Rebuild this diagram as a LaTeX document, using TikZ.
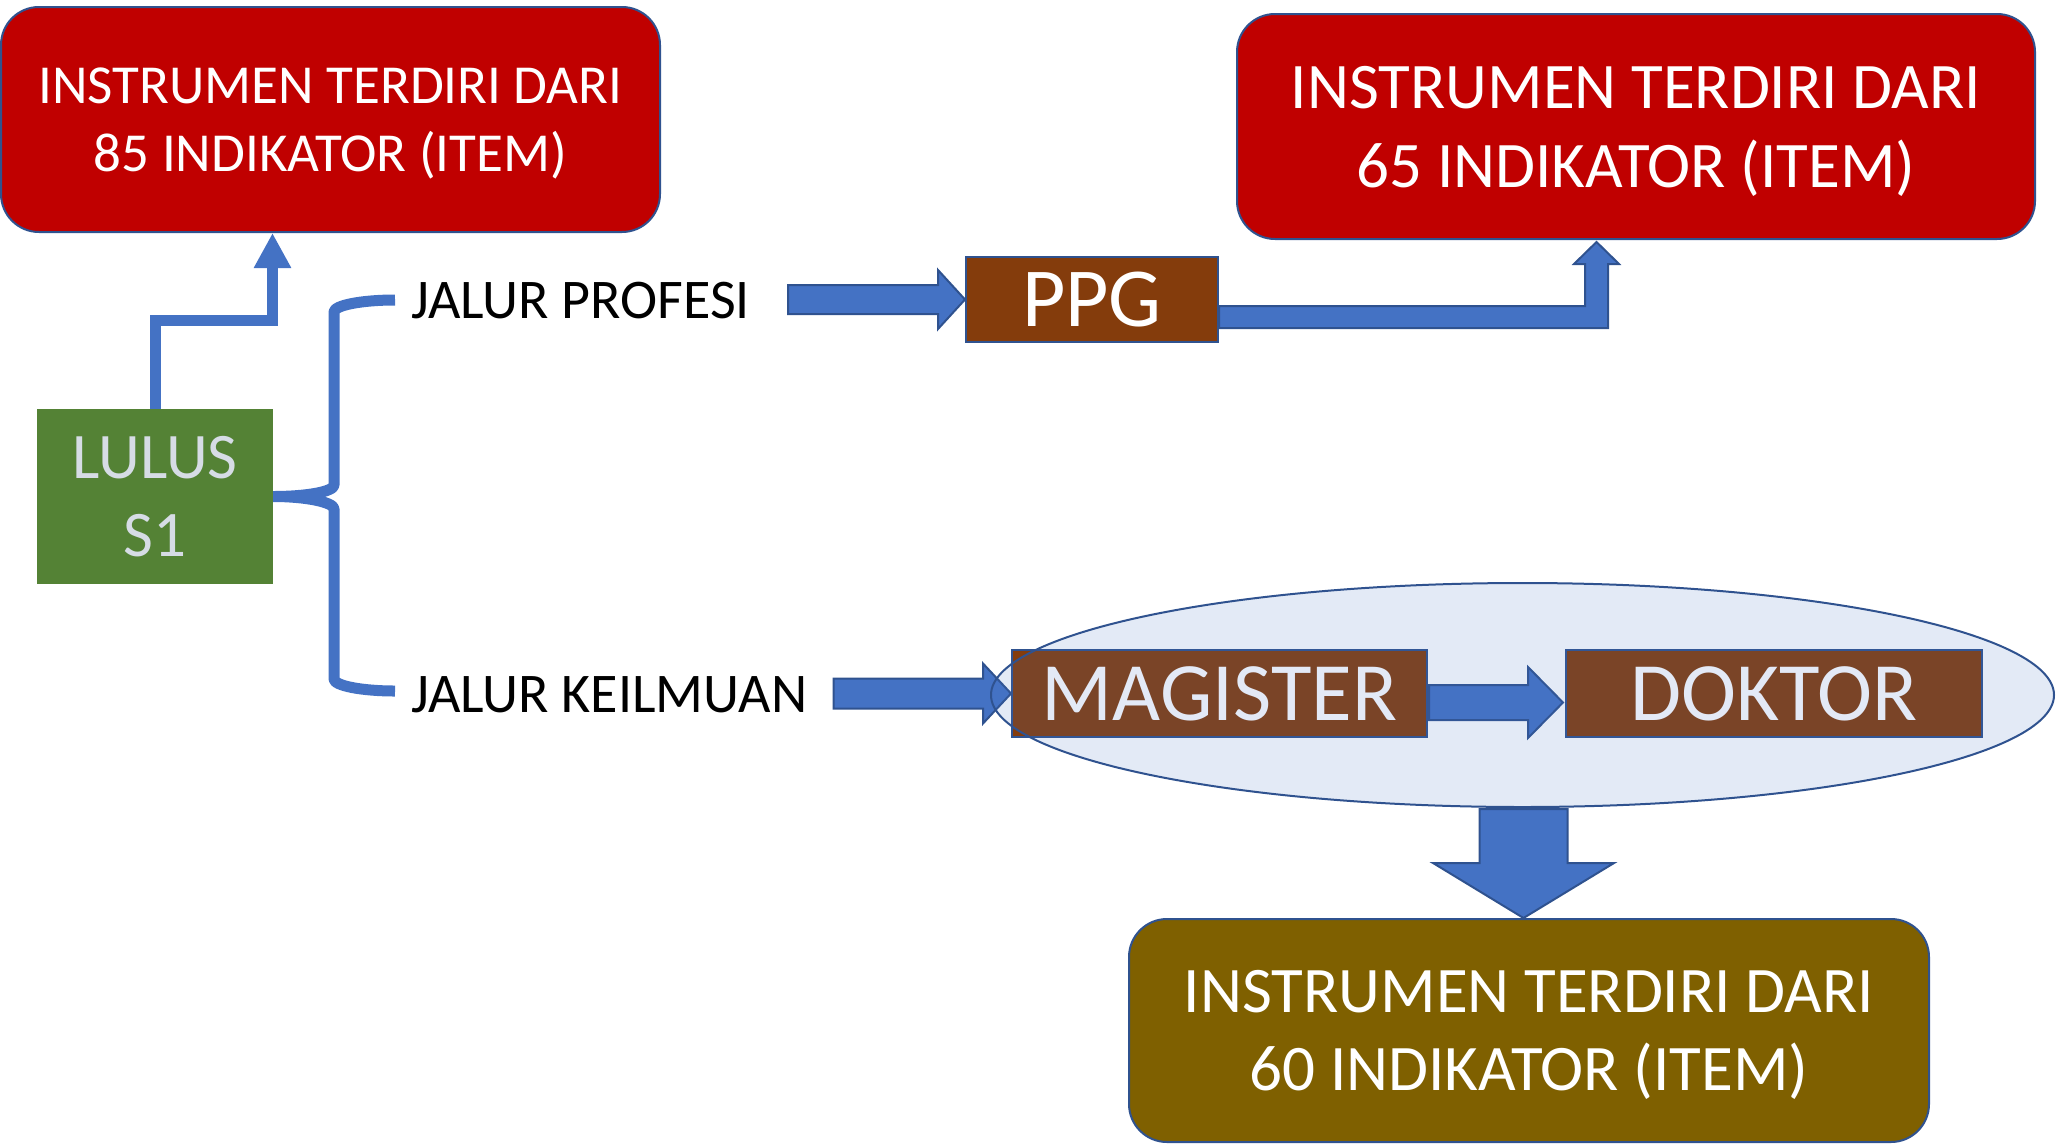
\documentclass[tikz,border=0pt]{standalone}
\usepackage{fontspec}
\setmainfont{Carlito}
\usetikzlibrary{shapes.geometric,arrows.meta,calc}
\definecolor{cred}{HTML}{C00000}
\definecolor{cgreen}{HTML}{548235}
\definecolor{cbrown}{HTML}{843C0C}
\definecolor{colive}{HTML}{7F6000}
\definecolor{cblue}{HTML}{4472C4}
\definecolor{cborder}{HTML}{2F528F}
\definecolor{clight}{HTML}{D6DCE5}
\newcommand{\blockR}[5]{%
  \path[blockarrow] (#1) -- ++({-#3},{-#5}) -- ++(0,{#5-#4}) -- ++({-(#2-#3)},0)
    -- ++(0,{2*#4}) -- ++({#2-#3},0) -- ++(0,{#5-#4}) -- cycle;}
\begin{document}
\begin{tikzpicture}[x=1pt,y=-1pt,
  box/.style={rectangle, inner sep=0pt, align=center, text depth=0pt, line width=2pt, draw=cborder},
  redbox/.style={box, fill=cred, text=white, rounded corners=38pt},
  brownbox/.style={box, fill=cbrown, text=white, minimum height=87pt},
  blockarrow/.style={fill=cblue, draw=cborder, line width=2pt, line join=miter},
  thinline/.style={draw=cblue, line width=11pt, line join=miter},
  jalur/.style={font=\fontsize{56}{67}\selectfont, text=black, inner sep=0pt, anchor=base west}
]
\useasboundingbox (0,0) rectangle (2056,1144);

% boxes
\node[redbox, text depth=-6pt, minimum width=659pt, minimum height=225pt, font=\fontsize{55}{67.5}\selectfont] (box85) at (330.5,119.5) {INSTRUMEN TERDIRI DARI\\85 INDIKATOR (ITEM)};
\node[redbox, text depth=-3pt, minimum width=798pt, minimum height=225pt, font=\fontsize{65}{79}\selectfont] (box65) at (1636,126.5) {INSTRUMEN TERDIRI DARI\\65 INDIKATOR (ITEM)};
\node[box, text depth=-6pt, fill=colive, text=white, rounded corners=38pt, minimum width=800pt, minimum height=223pt, font=\fontsize{65}{78}\selectfont] (box60) at (1529,1030.5) {INSTRUMEN TERDIRI DARI\\60 INDIKATOR (ITEM)};
\node[rectangle, fill=cgreen, text=clight, inner sep=0pt, align=center, text depth=0pt, minimum width=236pt, minimum height=175pt, font=\fontsize{65}{78}\selectfont] (lulus) at (155,496.5) {LULUS\\S1};
\node[brownbox, minimum width=252pt, minimum height=85pt, font=\fontsize{84}{100}\selectfont] (ppg) at (1092,299.5) {PPG};
\node[brownbox, minimum width=415pt, font=\fontsize{83}{100}\selectfont] (mag) at (1219.5,693.5) {MAGISTER};
\node[brownbox, minimum width=416pt, font=\fontsize{83}{100}\selectfont] (dok) at (1774,693.5) {DOKTOR};

% labels
\node[jalur] (jp) at (411,318) {JALUR PROFESI};
\node[jalur] (jk) at (411,712) {JALUR KEILMUAN};

% block arrows
\blockR{ppg.west}{177}{27}{14.5}{29.5}
\blockR{mag.west}{177.5}{28}{15}{30}
\blockR{$(dok.west)+(-2,9)$}{134}{35}{17.5}{35.5}
\path[blockarrow] ($(ppg.east)+(0,28.5)$) -- ++(389,0) -- ++(0,-64) -- ++(11,0)
  -- ++(-22.5,-22) -- ++(-22.5,22) -- ++(11,0) -- ++(0,42) -- ++(-366,0) -- cycle;

% LULUS -> 85 box
\coordinate (c1) at (272.5,320);
\draw[thinline, -{Triangle[width=35pt,length=35pt]}] (lulus.north) |- (c1) -- (c1 |- box85.south);

% brace
\coordinate (bt) at (395,300);
\coordinate (bb) at (395,691);
\draw[thinline, line join=bevel] (bt) .. controls (361.3,300) and (334,305.4) .. (334,312)
  -- (334,485) .. controls (334,491.6) and (306.7,496.5) .. (lulus.east)
  .. controls (306.7,496.5) and (334,502.4) .. (334,509)
  -- (334,679) .. controls (334,685.6) and (361.3,691) .. (bb);

% ellipse group
\node[ellipse, minimum width=1063pt, minimum height=224pt, inner sep=0pt, fill=cblue, fill opacity=0.15, draw=cborder, line width=2pt] (ell) at (1522.5,695) {};

% down arrow
\path[blockarrow] ($(ell.south)+(1,110)$) -- ++(-90.5,-55) -- ++(46.5,0) -- ++(0,-54)
  -- ++(88,0) -- ++(0,54) -- ++(46.5,0) -- cycle;
\end{tikzpicture}
\end{document}
